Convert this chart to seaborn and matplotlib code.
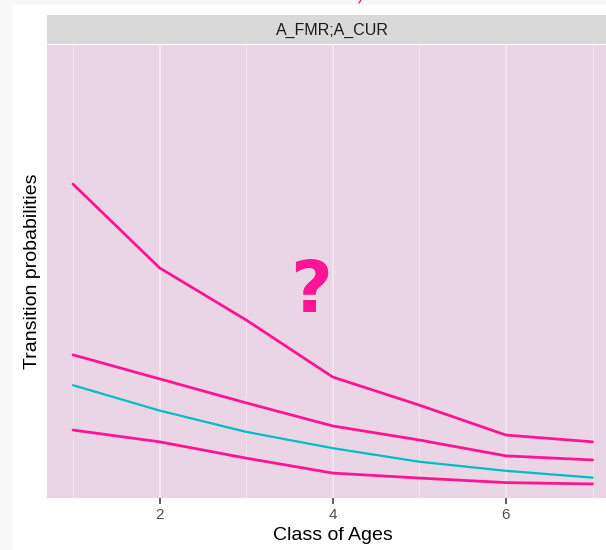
import matplotlib
matplotlib.use("Agg")
import matplotlib.pyplot as plt
import seaborn as sns
import pandas as pd
from matplotlib.patches import Rectangle
from matplotlib.lines import Line2D

# Data
ages = [1, 2, 3, 4, 5, 6, 7]
upper_magenta = [0.693, 0.508, 0.393, 0.267, 0.205, 0.139, 0.124]
middle_magenta = [0.316, 0.263, 0.210, 0.159, 0.128, 0.093, 0.084]
cyan_line = [0.249, 0.193, 0.146, 0.110, 0.080, 0.060, 0.045]
lower_magenta = [0.150, 0.124, 0.088, 0.055, 0.044, 0.034, 0.031]
series_names = ["upper", "middle", "observed", "lower"]
x_ticks = [2, 4, 6]
strip_title = "A_FMR;A_CUR"

rows = []
for name, vals in zip(series_names, [upper_magenta, middle_magenta, cyan_line, lower_magenta]):
    for a, v in zip(ages, vals):
        rows.append({"age": a, "prob": v, "series": name})
df = pd.DataFrame(rows)

MAG = "#ff1493"
CYA = "#00bfc4"
palette = {"upper": MAG, "middle": MAG, "observed": CYA, "lower": MAG}

sns.set_style("white")
plt.rcParams["font.family"] = ["Liberation Sans", "DejaVu Sans"]

fig = plt.figure(figsize=(6.06, 5.5), dpi=100)
fig.patch.set_facecolor("white")
# light gray screenshot border
fig.add_artist(Rectangle((0, 0), 13 / 606, 1, transform=fig.transFigure, color="#f8f8f8", lw=0, zorder=0))
fig.add_artist(Rectangle((0, 1 - 5 / 550), 1, 5 / 550, transform=fig.transFigure, color="#f8f8f8", lw=0, zorder=0))
fig.add_artist(Line2D([361 / 606, 359 / 606], [1, 1 - 3 / 550], transform=fig.transFigure, color=MAG, lw=1))

W = 618.5 - 47
ax = fig.add_axes([47 / 606, 52 / 550, W / 606, 453 / 550])
ax.set_facecolor("#e9d5e6")

for xv in [1, 3, 5, 7]:
    ax.axvline(xv, color="#f1e3ef", lw=0.8, zorder=0.5)
for xv in x_ticks:
    ax.axvline(xv, color="#f3e7f2", lw=1.3, zorder=0.5)

sns.lineplot(data=df, x="age", y="prob", hue="series", units="series", estimator=None,
             palette=palette, lw=2.0, legend=False, ax=ax, zorder=3)
for line in ax.get_lines():
    if line.get_color() == CYA:
        line.set_linewidth(1.6)

ax.set_xlim(0.7, 7.3)
ax.set_ylim(0, 1)
ax.set_xticks(x_ticks)
ax.set_xticklabels([str(t) for t in x_ticks])
ax.set_yticks([])
ax.tick_params(axis="x", length=4, width=1.1, color="#333333", labelcolor="#4d4d4d",
               labelsize=11, pad=3, bottom=True)
for s in ax.spines.values():
    s.set_visible(False)
ax.grid(False)

ax.set_xlabel("Class of Ages", fontsize=14, color="black")
ax.set_ylabel("Transition probabilities", fontsize=14, color="black")
ax.xaxis.set_label_coords((332.5 - 47) / W, -29 / 453)
ax.yaxis.set_label_coords(-(47 - 41) / W, 0.5)

# strip
fig.add_artist(Rectangle((47 / 606, 1 - 44 / 550), 1, 29 / 550, transform=fig.transFigure,
                         color="#d9d9d9", lw=0, zorder=1))
fig.text(332.5 / 606, 1 - 30 / 550, strip_title, ha="center", va="center", fontsize=11.5, color="#1a1a1a")

# question mark annotation
ax.text(4 - (332 - 310) / 86.7, (498 - 293) / 453, "?", ha="center", va="center",
        fontsize=52, fontweight="bold", color=MAG, family="DejaVu Sans", zorder=4)

fig.savefig("out.png", dpi=100)
